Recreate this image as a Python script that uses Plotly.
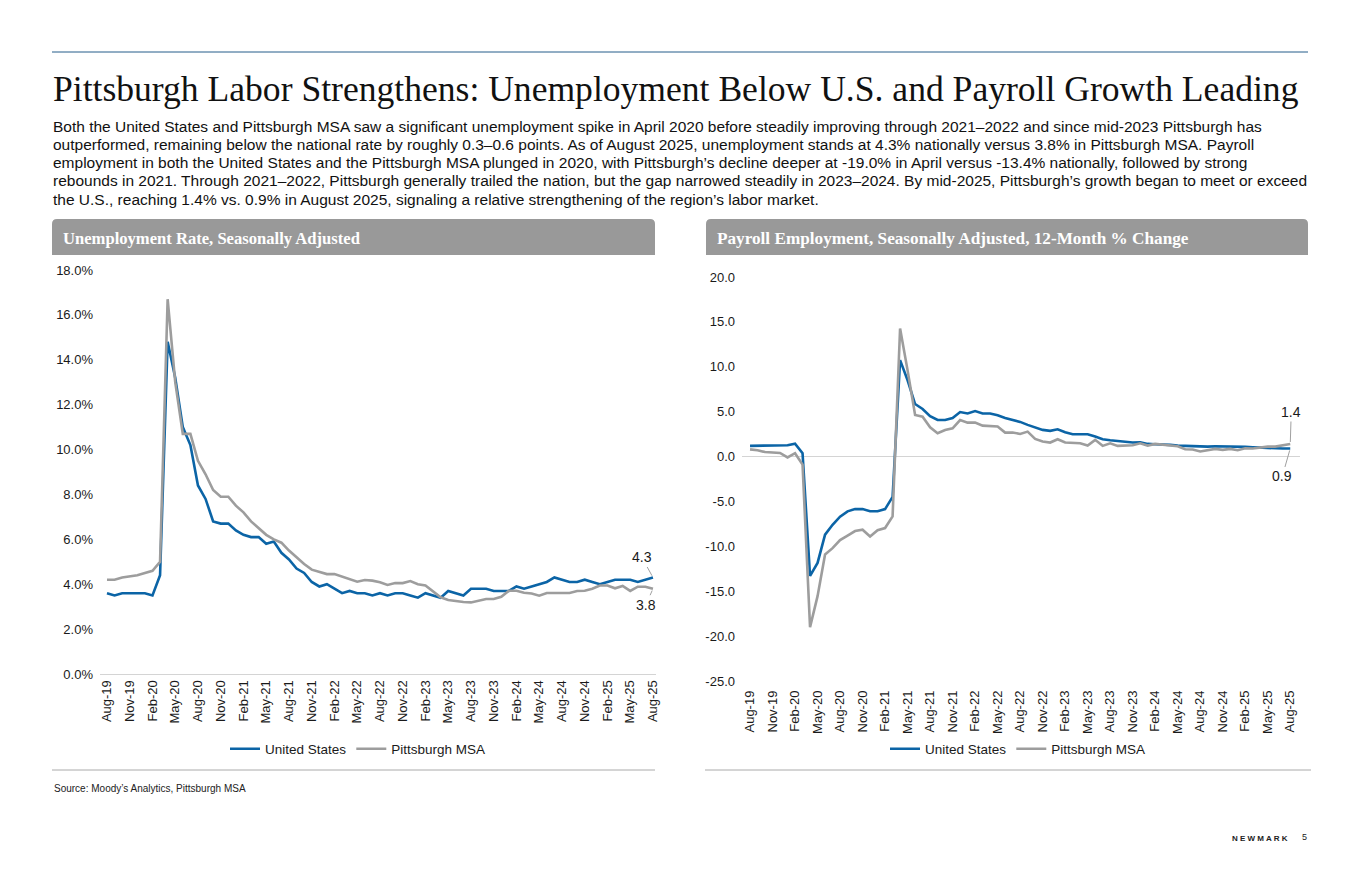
import pandas as pd
import plotly.graph_objects as go

W, H = 1360, 880

# ---------------- data ----------------
months = list(pd.date_range("2019-08-01", periods=73, freq="MS").strftime("%b-%y"))
tick_labels = months[::3]

unemp_us = [3.6, 3.5, 3.6, 3.6, 3.6, 3.6, 3.5, 4.4, 14.8, 13.2, 11.0, 10.2, 8.4, 7.8, 6.8, 6.7, 6.7,
            6.4, 6.2, 6.1, 6.1, 5.8, 5.9, 5.4, 5.1, 4.7, 4.5, 4.1, 3.9,
            4.0, 3.8, 3.6, 3.7, 3.6, 3.6, 3.5, 3.6, 3.5, 3.6, 3.6, 3.5,
            3.4, 3.6, 3.5, 3.4, 3.7, 3.6, 3.5, 3.8, 3.8, 3.8, 3.7, 3.7,
            3.7, 3.9, 3.8, 3.9, 4.0, 4.1, 4.3, 4.2, 4.1, 4.1, 4.2, 4.1,
            4.0, 4.1, 4.2, 4.2, 4.2, 4.1, 4.2, 4.3]
unemp_pit = [4.2, 4.2, 4.3, 4.35, 4.4, 4.5, 4.6, 5.0, 16.7, 13.0, 10.7, 10.7, 9.5, 8.9, 8.2, 7.9, 7.9,
             7.5, 7.2, 6.8, 6.5, 6.2, 6.0, 5.85, 5.5, 5.2, 4.9, 4.65, 4.55,
             4.45, 4.45, 4.34, 4.23, 4.11, 4.19, 4.16, 4.09, 3.97, 4.05, 4.05, 4.14,
             4.0, 3.94, 3.67, 3.42, 3.3, 3.25, 3.21, 3.19, 3.25, 3.34, 3.34, 3.44,
             3.71, 3.71, 3.62, 3.59, 3.49, 3.61, 3.61, 3.61, 3.61, 3.7, 3.71, 3.8,
             3.94, 3.94, 3.82, 3.92, 3.7, 3.89, 3.89, 3.8]

pay_us = [1.19, 1.2, 1.2, 1.26, 1.26, 1.26, 1.44, 0.37, -13.3, -11.85, -8.7, -7.6, -6.7, -6.1, -5.85,
          -5.85, -6.1, -6.1, -5.85, -4.5, 10.74, 8.5, 5.85, 5.3, 4.5, 4.07, 4.07, 4.3, 4.96,
          4.8, 5.07, 4.8, 4.8, 4.6, 4.3, 4.08, 3.86, 3.53, 3.23, 2.97, 2.86,
          3.04, 2.71, 2.49, 2.49, 2.49, 2.23, 1.93, 1.82, 1.74, 1.6, 1.56, 1.6,
          1.41, 1.37, 1.37, 1.3, 1.22, 1.19, 1.15, 1.11, 1.11, 1.15, 1.15, 1.15,
          1.15, 1.08, 1.04, 1.0, 0.93, 0.93, 0.89, 0.9]
pay_pit = [0.8, 0.7, 0.5, 0.45, 0.4, -0.1, 0.37, -0.9, -19.0, -15.55, -10.9, -10.2, -9.3, -8.8, -8.3,
           -8.15, -8.9, -8.2, -7.96, -6.67, 14.26, 9.6, 4.63, 4.44, 3.26, 2.6, 2.96, 3.15, 4.07,
           3.78, 3.78, 3.44, 3.41, 3.34, 2.67, 2.67, 2.52, 2.78, 1.97, 1.67, 1.56,
           1.93, 1.56, 1.56, 1.48, 1.22, 1.86, 1.19, 1.48, 1.19, 1.22, 1.26, 1.48,
           1.22, 1.41, 1.3, 1.19, 1.15, 0.82, 0.78, 0.56, 0.74, 0.85, 0.74, 0.85,
           0.7, 0.93, 0.89, 1.04, 1.11, 1.11, 1.26, 1.4]

unemp_ticks = [0, 2, 4, 6, 8, 10, 12, 14, 16, 18]
pay_ticks = [-25, -20, -15, -10, -5, 0, 5, 10, 15, 20]

# ---------------- styling ----------------
BLUE = "#0b64a6"
GREY = "#9d9d9d"
SANS = "Liberation Sans, Arial, sans-serif"
SERIF = "Liberation Serif, Times New Roman, serif"
TXT = "#1a1a1a"


def px(x):
    return x / W


def py(y):
    return 1 - y / H


fig = go.Figure()

fig.add_trace(go.Scatter(x=months, y=unemp_us, name="United States", mode="lines",
                         line=dict(color=BLUE, width=2.6), xaxis="x", yaxis="y", legend="legend"))
fig.add_trace(go.Scatter(x=months, y=unemp_pit, name="Pittsburgh MSA", mode="lines",
                         line=dict(color=GREY, width=2.6), xaxis="x", yaxis="y", legend="legend"))
fig.add_trace(go.Scatter(x=months, y=pay_us, name="United States", mode="lines",
                         line=dict(color=BLUE, width=2.6), xaxis="x2", yaxis="y2", legend="legend2"))
fig.add_trace(go.Scatter(x=months, y=pay_pit, name="Pittsburgh MSA", mode="lines",
                         line=dict(color=GREY, width=2.6), xaxis="x2", yaxis="y2", legend="legend2"))

tickfont = dict(family=SANS, size=13, color=TXT)

fig.update_layout(
    template="none",
    width=W, height=H, autosize=False, margin=dict(l=0, r=0, t=0, b=0, pad=0),
    paper_bgcolor="white", plot_bgcolor="white",
    xaxis=dict(domain=[px(100), px(656)], type="category", range=[-0.92, 72.4], automargin=False,
               tickmode="array", tickvals=tick_labels, ticktext=tick_labels, tickangle=-90,
               tickfont=tickfont, showgrid=False, showline=True, linecolor="#d4d4d4",
               linewidth=1, ticks="", anchor="y", zeroline=False),
    yaxis=dict(domain=[py(674), py(270)], range=[0, 18], tickmode="array", automargin=False,
               tickvals=unemp_ticks, ticktext=[f"{v:.1f}%" for v in unemp_ticks],
               tickfont=tickfont, showgrid=False, zeroline=False, showline=False, ticks="",
               anchor="x", ticklabelstandoff=6),
    xaxis2=dict(domain=[px(742), px(1300)], type="category", range=[-1.07, 73.3], automargin=False,
                tickmode="array", tickvals=tick_labels, ticktext=tick_labels, tickangle=-90,
                tickfont=tickfont, showgrid=False, showline=False, ticks="", anchor="y2",
                zeroline=False, ticklabelstandoff=6),
    yaxis2=dict(domain=[py(681), py(277)], range=[-25, 20], tickmode="array", automargin=False,
                tickvals=pay_ticks, ticktext=[f"{v:.1f}" for v in pay_ticks], ticks="",
                tickfont=tickfont, showgrid=False, zeroline=True, zerolinecolor="#d4d4d4",
                zerolinewidth=1, showline=False, anchor="x2", ticklabelstandoff=6),
    legend=dict(orientation="h", x=px(358), y=py(749), xanchor="center", yanchor="middle",
                font=dict(family=SANS, size=13.5, color=TXT), bgcolor="rgba(0,0,0,0)",
                itemwidth=30, tracegroupgap=0),
    legend2=dict(orientation="h", x=px(1018), y=py(749), xanchor="center", yanchor="middle",
                 font=dict(family=SANS, size=13.5, color=TXT), bgcolor="rgba(0,0,0,0)",
                 itemwidth=30, tracegroupgap=0),
    showlegend=True,
)

shapes = []
# top rule
shapes.append(dict(type="line", xref="paper", yref="paper", x0=px(52), x1=px(1308), y0=py(52), y1=py(52),
                   line=dict(color="#245c8a", width=1)))


def header_path(x0, x1, y0, y1, r=5):
    return (f"M {px(x0)},{py(y1)} L {px(x0)},{py(y0 + r)} Q {px(x0)},{py(y0)} {px(x0 + r)},{py(y0)} "
            f"L {px(x1 - r)},{py(y0)} Q {px(x1)},{py(y0)} {px(x1)},{py(y0 + r)} L {px(x1)},{py(y1)} Z")


shapes.append(dict(type="path", xref="paper", yref="paper", path=header_path(52, 655, 219, 255),
                   fillcolor="#999999", line=dict(width=0)))
shapes.append(dict(type="path", xref="paper", yref="paper", path=header_path(706, 1308, 219, 255),
                   fillcolor="#999999", line=dict(width=0)))
# bottom separators
shapes.append(dict(type="line", xref="paper", yref="paper", x0=px(52), x1=px(655), y0=py(770), y1=py(770),
                   line=dict(color="#aaaaaa", width=1)))
shapes.append(dict(type="line", xref="paper", yref="paper", x0=px(705), x1=px(1311), y0=py(770), y1=py(770),
                   line=dict(color="#aaaaaa", width=1)))
fig.update_layout(shapes=shapes)

ann = []
ann.append(dict(text="Pittsburgh Labor Strengthens: Unemployment Below U.S. and Payroll Growth Leading",
                x=px(51), y=py(89), xref="paper", yref="paper", xanchor="left", yanchor="middle",
                showarrow=False, font=dict(family=SERIF, size=35.6, color="#111111")))

para = [
    "Both the United States and Pittsburgh MSA saw a significant unemployment spike in April 2020 before steadily improving through 2021–2022 and since mid-2023 Pittsburgh has",
    "outperformed, remaining below the national rate by roughly 0.3–0.6 points. As of August 2025, unemployment stands at 4.3% nationally versus 3.8% in Pittsburgh MSA. Payroll",
    "employment in both the United States and the Pittsburgh MSA plunged in 2020, with Pittsburgh’s decline deeper at -19.0% in April versus -13.4% nationally, followed by strong",
    "rebounds in 2021. Through 2021–2022, Pittsburgh generally trailed the nation, but the gap narrowed steadily in 2023–2024. By mid-2025, Pittsburgh’s growth began to meet or exceed",
    "the U.S., reaching 1.4% vs. 0.9% in August 2025, signaling a relative strengthening of the region’s labor market.",
]
for i, line in enumerate(para):
    ann.append(dict(text=line, x=px(51), y=py(126 + i * 18.3), xref="paper", yref="paper",
                    xanchor="left", yanchor="middle", showarrow=False,
                    font=dict(family=SANS, size=15.5, color="#111111")))

ann.append(dict(text="<b>Unemployment Rate, Seasonally Adjusted</b>", x=px(61), y=py(238), xref="paper",
                yref="paper", xanchor="left", yanchor="middle", showarrow=False,
                font=dict(family=SERIF, size=16.6, color="white")))
ann.append(dict(text="<b>Payroll Employment, Seasonally Adjusted, 12-Month % Change</b>", x=px(715), y=py(238),
                xref="paper", yref="paper", xanchor="left", yanchor="middle", showarrow=False,
                font=dict(family=SERIF, size=17.2, color="white")))

lbl_font = dict(family=SANS, size=14, color=TXT)
ann.append(dict(text=f"{unemp_us[-1]:.1f}", x=months[-1], y=unemp_us[-1], xref="x", yref="y",
                ax=-11, ay=-20, showarrow=True, arrowhead=0, arrowwidth=1, arrowcolor="#a0a0a0",
                standoff=2, font=lbl_font))
ann.append(dict(text=f"{unemp_pit[-1]:.1f}", x=months[-1], y=unemp_pit[-1], xref="x", yref="y",
                ax=-7, ay=16, showarrow=True, arrowhead=0, arrowwidth=1, arrowcolor="#a0a0a0",
                standoff=2, font=lbl_font))
ann.append(dict(text=f"{pay_pit[-1]:.1f}", x=months[-1], y=pay_pit[-1], xref="x2", yref="y2",
                ax=1, ay=-32, showarrow=True, arrowhead=0, arrowwidth=1, arrowcolor="#a0a0a0",
                standoff=2, font=lbl_font))
ann.append(dict(text=f"{pay_us[-1]:.1f}", x=months[-1], y=pay_us[-1], xref="x2", yref="y2",
                ax=-8, ay=28, showarrow=True, arrowhead=0, arrowwidth=1, arrowcolor="#a0a0a0",
                standoff=2, font=lbl_font))

ann.append(dict(text="Source: Moody’s Analytics, Pittsburgh MSA", x=px(52), y=py(788), xref="paper",
                yref="paper", xanchor="left", yanchor="middle", showarrow=False,
                font=dict(family=SANS, size=10, color="#222222")))
ann.append(dict(text="<b>N E W M A R K</b>", x=px(1290), y=py(838), xref="paper", yref="paper",
                xanchor="right", yanchor="middle", showarrow=False,
                font=dict(family=SANS, size=8, color="#222222")))
ann.append(dict(text="5", x=px(1309), y=py(837), xref="paper", yref="paper",
                xanchor="right", yanchor="middle", showarrow=False,
                font=dict(family=SANS, size=9, color="#222222")))
fig.update_layout(annotations=ann)

fig.write_html("out.html", config={"displayModeBar": False, "responsive": False},
               post_script="document.body.style.margin='0';document.body.style.overflow='hidden';")
